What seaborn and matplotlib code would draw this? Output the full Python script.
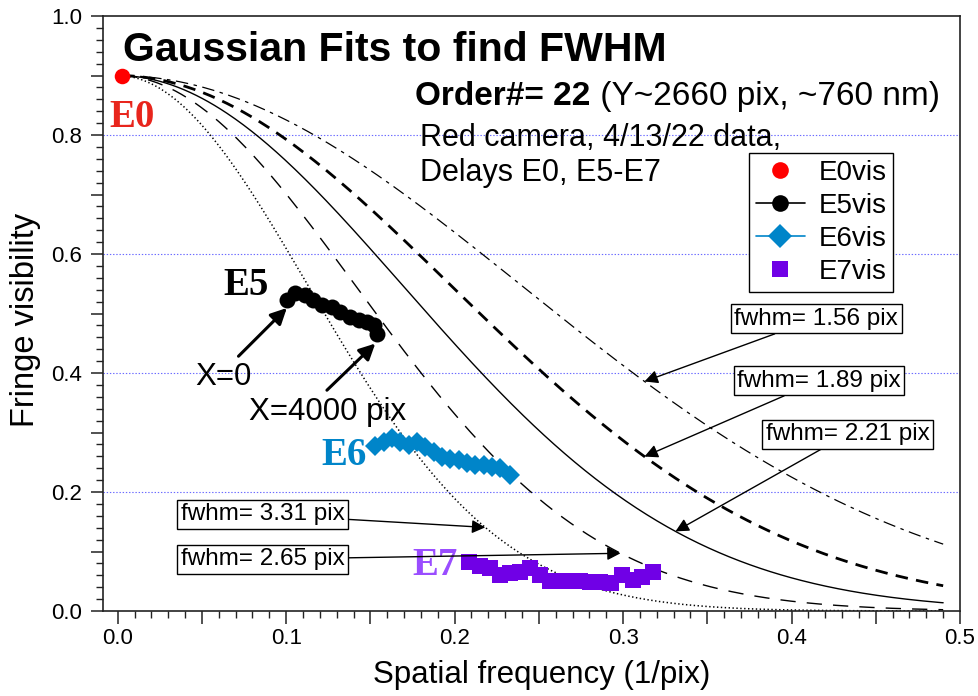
import matplotlib
matplotlib.use("Agg")
import numpy as np
import pandas as pd
import matplotlib.pyplot as plt
from matplotlib.ticker import MultipleLocator, FuncFormatter
from matplotlib.lines import Line2D
import seaborn as sns

# ---------------- data ----------------
e0_freq = [0.0026]
e0_vis = [0.900]

e5_freq = [0.1004, 0.1053, 0.1113, 0.1162, 0.1212, 0.1271, 0.1321, 0.1380,
           0.1430, 0.1480, 0.1520, 0.1540]
e5_vis = [0.523, 0.534, 0.531, 0.522, 0.514, 0.511, 0.503, 0.494,
          0.489, 0.486, 0.480, 0.466]

e6_freq = [0.1529, 0.1578, 0.1628, 0.1677, 0.1727, 0.1777, 0.1826, 0.1875,
           0.1925, 0.1974, 0.2024, 0.2074, 0.2123, 0.2172, 0.2222, 0.2272, 0.2331]
e6_vis = [0.278, 0.284, 0.290, 0.284, 0.279, 0.284, 0.276, 0.268,
          0.259, 0.256, 0.254, 0.248, 0.245, 0.246, 0.242, 0.240, 0.228]

e7_freq = [0.2087, 0.2153, 0.2212, 0.2271, 0.2331, 0.2390, 0.2449, 0.2509,
           0.2568, 0.2628, 0.2687, 0.2747, 0.2806, 0.2865, 0.2931, 0.2996,
           0.3056, 0.3115, 0.3175]
e7_vis = [0.082, 0.076, 0.072, 0.061, 0.064, 0.066, 0.072, 0.061,
          0.050, 0.050, 0.050, 0.050, 0.049, 0.049, 0.047, 0.061,
          0.052, 0.057, 0.066]

# Gaussian fit parameters shown in the chart
fit_amplitude = 0.90
fwhm_values = [1.56, 1.89, 2.21, 2.65, 3.31]
fit_freq_max = 0.49

legend_labels = ["E0vis", "E5vis", "E6vis", "E7vis"]

# ---------------- style ----------------
sns.set_theme(style="ticks")
plt.rcParams["font.family"] = ["Liberation Sans", "DejaVu Sans"]
plt.rcParams["lines.scale_dashes"] = False
plt.rcParams["axes.linewidth"] = 1.2
plt.rcParams["text.color"] = "black"
plt.rcParams["axes.labelcolor"] = "black"
plt.rcParams["xtick.color"] = "black"
plt.rcParams["ytick.color"] = "black"

C_E0 = "#ff0000"
C_E0_TXT = "#e8251c"
C_E6 = "#0085c9"
C_E7 = "#7000e6"
C_E7_TXT = "#9a4dff"

fig = plt.figure(figsize=(9.79, 6.96), dpi=100)
ax = fig.add_axes([0.1049, 0.1221, 0.8757, 0.8549])

ax.set_xlim(-0.0089, 0.5)
ax.set_ylim(0.0, 1.0)

for s in ax.spines.values():
    s.set_color("#222222")
    s.set_linewidth(1.2)

# horizontal dotted blue guide lines
for yv in [0.2, 0.4, 0.6, 0.8]:
    ax.axhline(yv, color="#6b6bff", lw=0.8, ls=(0, (1, 1.3)), zorder=0.5)


def gauss_fit(f, w):
    f = np.asarray(f)
    return fit_amplitude * np.exp(-(np.pi * w * f) ** 2 / (4 * np.log(2)))


fit_styles = {
    1.56: dict(lw=0.9, ls=(0, (9, 4, 2.5, 4))),
    1.89: dict(lw=2.0, ls=(0, (9, 6))),
    2.21: dict(lw=1.0, ls="-"),
    2.65: dict(lw=1.0, ls=(0, (11, 8))),
    3.31: dict(lw=1.1, ls=(0, (1, 1.8))),
}

freq_grid = np.linspace(e0_freq[0], fit_freq_max, 400)
for w in fwhm_values:
    df = pd.DataFrame({"freq": freq_grid, "vis": gauss_fit(freq_grid, w)})
    st = fit_styles[w]
    sns.lineplot(data=df, x="freq", y="vis", ax=ax, color="black",
                 linewidth=st["lw"], linestyle=st["ls"], sort=False,
                 estimator=None, legend=False, zorder=2)

# data series
sns.lineplot(x=e5_freq, y=e5_vis, ax=ax, color="black", linewidth=1.2,
             marker="o", markersize=11.5, markeredgewidth=0, sort=False,
             estimator=None, legend=False, zorder=4)
sns.lineplot(x=e6_freq, y=e6_vis, ax=ax, color=C_E6, linewidth=1.2,
             marker="D", markersize=10.5, markeredgewidth=0, sort=False,
             estimator=None, legend=False, zorder=4)
sns.scatterplot(x=e7_freq, y=e7_vis, ax=ax, color=C_E7, marker="s", s=125,
                linewidth=0, legend=False, zorder=4)
sns.scatterplot(x=e0_freq, y=e0_vis, ax=ax, color=C_E0, marker="o", s=125,
                linewidth=0, legend=False, zorder=5, clip_on=False)

# ticks
ax.xaxis.set_major_locator(MultipleLocator(0.05))
ax.xaxis.set_minor_locator(MultipleLocator(0.01))
ax.yaxis.set_major_locator(MultipleLocator(0.1))
ax.yaxis.set_minor_locator(MultipleLocator(0.02))
ax.xaxis.set_major_formatter(FuncFormatter(
    lambda v, p: f"{v:.1f}" if abs(round(v * 10) - v * 10) < 1e-6 else ""))
ax.yaxis.set_major_formatter(FuncFormatter(
    lambda v, p: f"{v:.1f}" if abs(round(v * 5) - v * 5) < 1e-6 else ""))
ax.tick_params(axis="both", which="major", direction="out", length=9,
               width=1.1, color="#222222", labelsize=16, labelcolor="black")
ax.tick_params(axis="both", which="minor", direction="out", length=5,
               width=1.0, color="#222222")
ax.tick_params(axis="x", which="major", pad=3)
ax.tick_params(axis="y", which="major", pad=6)
ax.tick_params(top=False, right=False, which="both")

ax.set_xlabel("Spatial frequency (1/pix)", fontsize=22.5)
ax.set_ylabel("Fringe visibility", fontsize=23.5)
ax.xaxis.set_label_coords(0.512, -0.082)
ax.yaxis.set_label_coords(-0.072, 0.49)

# title & notes
ax.text(0.0031, 0.925, "Gaussian Fits to find FWHM", fontsize=29.5,
        fontweight="bold", ha="left", va="baseline", zorder=6)
t1 = ax.text(0.1766, 0.851, "Order#= 22", fontsize=24, fontweight="bold",
             ha="left", va="baseline", zorder=6)
ax.annotate(" (Y~2660 pix, ~760 nm)", xy=(1, 0), xycoords=t1, fontsize=24,
            ha="left", va="bottom", zorder=6)
ax.text(0.1797, 0.781, "Red camera, 4/13/22 data,", fontsize=22,
        ha="left", va="baseline", zorder=6)
ax.text(0.1797, 0.722, "Delays E0, E5-E7", fontsize=22,
        ha="left", va="baseline", zorder=6)

# series labels
serif = ["Liberation Serif", "DejaVu Serif"]
ax.text(-0.0052, 0.813, "E0", family=serif, fontsize=28, fontweight="bold",
        color=C_E0_TXT, ha="left", va="baseline", zorder=6)
ax.text(0.0626, 0.531, "E5", family=serif, fontsize=28, fontweight="bold",
        color="black", ha="left", va="baseline", zorder=6)
ax.text(0.1210, 0.245, "E6", family=serif, fontsize=28, fontweight="bold",
        color=C_E6, ha="left", va="baseline", zorder=6)
ax.text(0.1747, 0.0605, "E7", family=serif, fontsize=28, fontweight="bold",
        color=C_E7_TXT, ha="left", va="baseline", zorder=6)

# X=0 / X=4000 pix arrows
big_arrow = dict(arrowstyle="-|>", color="black", lw=2.2, mutation_scale=24,
                 shrinkA=0, shrinkB=0)
ax.annotate("", xy=(0.1004, 0.5093), xytext=(0.0717, 0.4282),
            arrowprops=big_arrow, zorder=6)
ax.annotate("", xy=(0.1529, 0.4495), xytext=(0.1242, 0.3711),
            arrowprops=big_arrow, zorder=6)
ax.text(0.046, 0.3795, "X=0", fontsize=22.5, ha="left", va="baseline", zorder=6)
ax.text(0.078, 0.3207, "X=4000 pix", fontsize=22.5, ha="left", va="baseline",
        zorder=6)

# fwhm callouts (box centre, arrow-tip frequency on the fitted curve)
callouts = [
    (1.56, (0.4146, 0.4912), 0.3127),
    (1.89, (0.4163, 0.3871), 0.3127),
    (2.21, (0.4332, 0.2969), 0.3311),
    (3.31, (0.0859, 0.1624), 0.2182),
    (2.65, (0.0859, 0.0870), 0.2985),
]
for w, box_xy, tip_f in callouts:
    ax.annotate(f"fwhm= {w:.2f} pix", xy=(tip_f, float(gauss_fit(tip_f, w))),
                xytext=box_xy, textcoords="data", fontsize=17.5,
                ha="center", va="center", zorder=7,
                bbox=dict(boxstyle="square,pad=0.15", fc="white", ec="black",
                          lw=1.0),
                arrowprops=dict(arrowstyle="-|>", color="black", lw=1.0,
                                mutation_scale=20, shrinkA=0, shrinkB=0))

# legend
handles = [
    Line2D([], [], ls="none", marker="o", color=C_E0, markersize=12,
           markeredgewidth=0),
    Line2D([], [], ls="-", lw=1.2, marker="o", color="black", markersize=12,
           markeredgewidth=0),
    Line2D([], [], ls="-", lw=1.2, marker="D", color=C_E6, markersize=12,
           markeredgewidth=0),
    Line2D([], [], ls="none", marker="s", color=C_E7, markersize=12,
           markeredgewidth=0),
]
leg = ax.legend(handles, legend_labels, loc="upper left",
                bbox_to_anchor=(0.754, 0.770), borderaxespad=0, fontsize=20,
                frameon=True, fancybox=False, framealpha=1, edgecolor="black",
                handlelength=1.75, handletextpad=0.5, labelspacing=0.25,
                borderpad=0.25)
leg.get_frame().set_linewidth(1.0)
leg.set_zorder(8)

fig.savefig("out.png", dpi=100)
